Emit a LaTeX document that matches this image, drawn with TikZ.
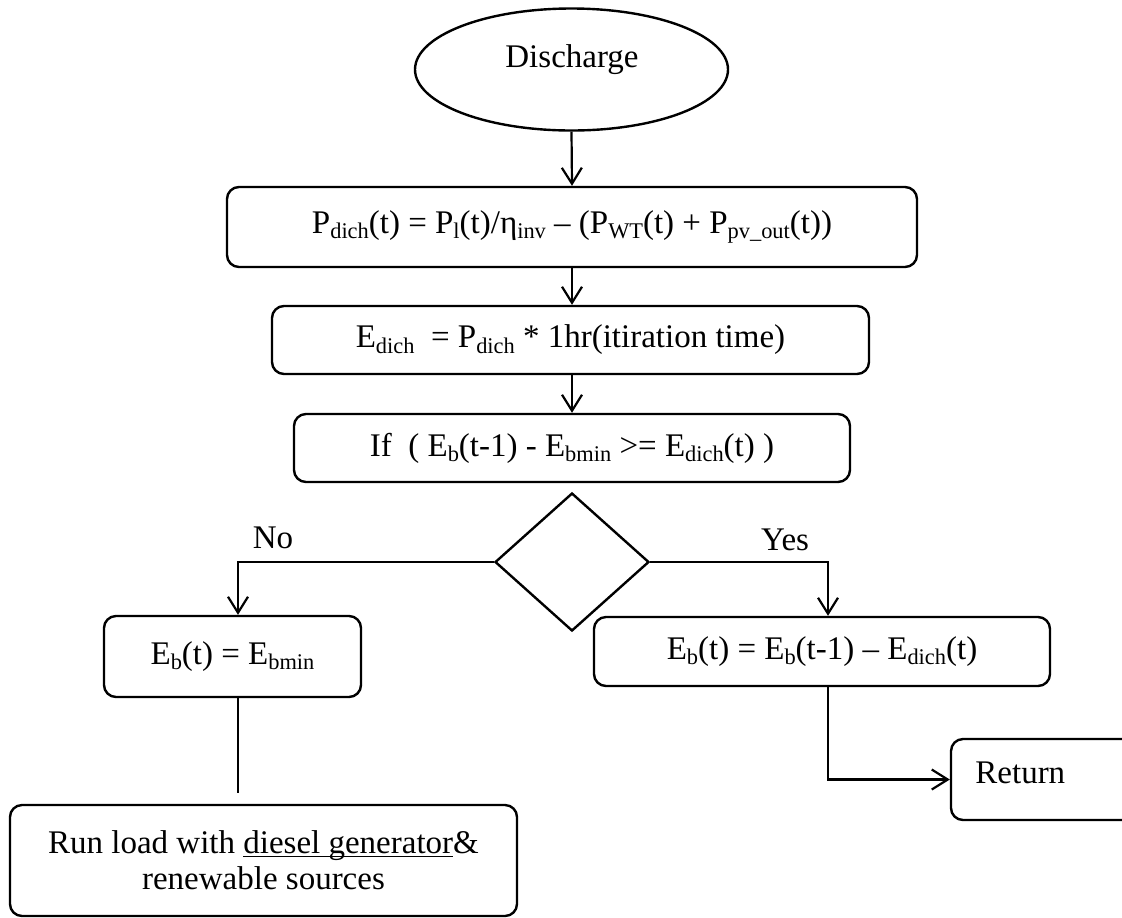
\documentclass[tikz,border=0pt]{standalone}
\usepackage{fontspec}
\setmainfont{Liberation Serif}
\usetikzlibrary{shapes.geometric,arrows.meta}
% word-processor style subscript: about two thirds size, slightly lowered
\newcommand\lo[1]{\raisebox{-0.16em}{\fontsize{11.2}{11.2}\selectfont #1}}
% underline drawn just below the baseline
\newcommand\uline[1]{\setbox0\hbox{#1}\rlap{\rule[-0.11em]{\wd0}{0.055em}}\box0}
\begin{document}
\begin{tikzpicture}[x=0.5pt,y=-0.5pt,
  every node/.style={font=\fontsize{16.5}{18}\selectfont},
  box/.style={draw, rounded corners=6pt, line width=1.2pt, inner sep=0pt},
  conn/.style={line width=1.1pt},
  arr/.style={conn, -{Straight Barb[length=8pt,width=10pt,line width=1.1pt]}}]
\useasboundingbox (0,0) rectangle (1122,917);

% start terminal
\node[draw, ellipse, line width=1.2pt, minimum width=156.5pt, minimum height=61pt, inner sep=0pt] (start) at (571.5,69.5) {};
\node (startlbl) at (572,60) {Discharge};

% process boxes
\node[box, minimum width=345pt, minimum height=40pt] (b1) at (572,227)
  {P\lo{dich}(t) = P\lo{l}(t)/η\lo{inv} – (P\lo{WT}(t) + P\lo{pv\_out}(t))};
\node[box, minimum width=298.5pt, minimum height=34pt] (b2) at (570.5,340)
  {E\lo{dich}\ \ = P\lo{dich} * 1hr(itiration time)};
\node[box, minimum width=278pt, minimum height=34pt] (b3) at (572,448)
  {If\ \ ( E\lo{b}(t-1) - E\lo{bmin} >= E\lo{dich}(t) )};

% decision
\node[draw, diamond, line width=1.2pt, aspect=1.116, minimum width=77pt, minimum height=69pt, inner sep=0pt] (dec) at (572,562) {};
\node (nolbl) at (273,538) {No};
\node (yeslbl) at (785,540) {Yes};

% branch results
\node[box, minimum width=128.5pt, minimum height=40.5pt] (b4) at (232.5,656.5)
  {E\lo{b}(t) = E\lo{bmin}};
\node[box, minimum width=228pt, minimum height=34.5pt] (b5) at (822,651.5)
  {E\lo{b}(t) = E\lo{b}(t-1) – E\lo{dich}(t)};
\node[box, minimum width=92pt, minimum height=40.5pt] (ret) at (1043,779.5) {};
\node[anchor=west, inner sep=0pt] (retlbl) at (975,773) {Return};
\node[box, minimum width=253.5pt, minimum height=55.5pt, align=center] (b6) at (263.5,860.5)
  {Run load with \uline{diesel generator}\&\\renewable sources};

% helper coordinates for the branch lines
\coordinate (noX) at (238,0);
\coordinate (yesX) at (828,0);
\coordinate (noend) at (238,793);

% connectors
\draw[arr] (start.south) -- (b1.north);
\draw[arr] (b1.south) -- (b1.south |- b2.north);
\draw[arr] (b1.south |- b2.south) -- (b1.south |- b3.north);
\draw[arr] (dec.west) -| (noX |- b4.north);
\draw[arr] (dec.east) -| (yesX |- b5.north);
\draw[arr] (yesX |- b5.south) |- (ret.west);
\draw[conn] (noX |- b4.south) -- (noend);
\end{tikzpicture}
\end{document}
